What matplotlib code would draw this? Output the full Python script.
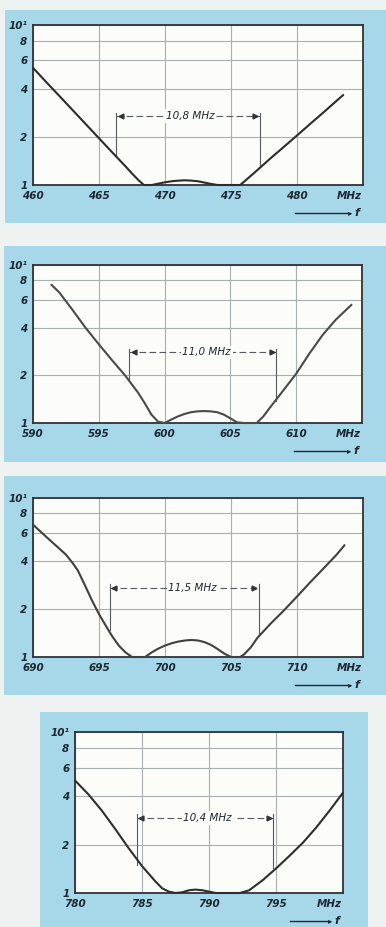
import numpy as np
import matplotlib.pyplot as plt
from matplotlib.patches import Rectangle

W, H = 386, 927

# ---- panel 1 : 460..485 MHz ----
f1 = [460, 461, 462, 463, 464, 465, 466, 467, 467.5, 468, 468.4, 469, 469.5, 470, 470.5,
      471, 471.5, 472, 472.5, 473, 473.5, 474, 475, 475.7, 476, 477, 478, 479, 480, 481,
      482, 483, 483.5]
s1 = [5.4, 4.4, 3.6, 2.94, 2.4, 1.96, 1.6, 1.31, 1.18, 1.07, 1.0, 1.0, 1.02, 1.04, 1.055,
      1.065, 1.07, 1.065, 1.055, 1.035, 1.015, 1.0, 1.0, 1.0, 1.05, 1.24, 1.47, 1.73, 2.04, 2.41,
      2.84, 3.36, 3.65]
ticks1 = [460, 465, 470, 475, 480]
xlim1 = (460, 485)
band1 = (466.3, 477.2)
band1_foot = (1.52, 1.3)
band1_level = 2.7
band1_text = "10,8 MHz"
band1_mid = 471.9

# ---- panel 2 : 590..615 MHz ----
f2 = [591.4, 592, 593, 594, 595, 596, 597, 598, 598.5, 599, 599.5, 600, 600.5, 601, 601.5,
      602, 602.5, 603, 603.5, 604, 604.5, 605, 605.5, 606, 607, 607.5, 608, 609, 610, 611,
      612, 613, 614.2]
s2 = [7.5, 6.7, 5.2, 4.0, 3.15, 2.5, 2.0, 1.55, 1.33, 1.13, 1.02, 1.0, 1.05, 1.1, 1.14,
      1.17, 1.185, 1.19, 1.185, 1.17, 1.13, 1.07, 1.01, 1.0, 1.0, 1.1, 1.25, 1.6, 2.05, 2.75,
      3.6, 4.5, 5.6]
ticks2 = [590, 595, 600, 605, 610]
xlim2 = (590, 615)
band2 = (597.3, 608.5)
band2_foot = (1.85, 1.38)
band2_level = 2.8
band2_text = "11,0 MHz"
band2_mid = 603.2

# ---- panel 3 : 690..715 MHz ----
f3 = [690, 691, 692, 692.5, 693, 693.4, 694, 694.5, 695, 695.5, 696, 696.5, 697, 697.5,
      698.5, 699, 699.5, 700, 700.5, 701, 701.5, 702, 702.5, 703, 703.5, 704, 704.5, 705,
      705.7, 706, 706.5, 707, 708, 709, 710, 711, 712, 713, 713.6]
s3 = [6.8, 5.7, 4.8, 4.4, 3.9, 3.5, 2.75, 2.24, 1.86, 1.58, 1.35, 1.18, 1.07, 1.0,
      1.0, 1.07, 1.13, 1.18, 1.22, 1.25, 1.27, 1.28, 1.27, 1.24, 1.19, 1.12, 1.05, 1.0,
      1.0, 1.04, 1.15, 1.32, 1.62, 1.96, 2.4, 2.95, 3.6, 4.4, 5.05]
ticks3 = [690, 695, 700, 705, 710]
xlim3 = (690, 715)
band3 = (695.8, 707.1)
band3_foot = (1.48, 1.4)
band3_level = 2.73
band3_text = "11,5 MHz"
band3_mid = 702.1

# ---- panel 4 : 780..800 MHz ----
f4 = [780, 781, 782, 783, 784, 785, 786, 786.5, 787, 787.5, 788, 788.5, 789, 789.5, 790,
      790.5, 791.5, 792.3, 793, 794, 795, 796, 797, 798, 799, 800]
s4 = [5.0, 4.1, 3.25, 2.5, 1.9, 1.47, 1.18, 1.07, 1.02, 1.0, 1.01, 1.04, 1.05, 1.04, 1.02,
      1.0, 1.0, 1.0, 1.04, 1.2, 1.42, 1.7, 2.05, 2.55, 3.25, 4.2]
ticks4 = [780, 785, 790, 795]
xlim4 = (780, 800)
band4 = (784.6, 794.8)
band4_foot = (1.5, 1.42)
band4_level = 2.93
band4_text = "10,4 MHz"
band4_mid = 789.9

yticks = [1, 2, 4, 6, 8, 10]
ylabels = ["1", "2", "4", "6", "8", "10\u00b9"]

# layout in pixels: blue card (x0, y0, x1, y1), plot frame (x0, y0, x1, y1)
cards = [(5, 10, 386, 223), (4, 246, 386, 462), (4, 476, 386, 695), (40, 712, 368, 927)]
frames = [(33, 25, 363, 185), (33, 265, 362, 423), (33, 498, 363, 657), (75, 732, 343, 893)]
curve_colors = ["#2c2c2c", "#4a4a4a", "#404040", "#2e2e2e"]

panels = [
    (f1, s1, ticks1, xlim1, band1, band1_foot, band1_level, band1_text, band1_mid),
    (f2, s2, ticks2, xlim2, band2, band2_foot, band2_level, band2_text, band2_mid),
    (f3, s3, ticks3, xlim3, band3, band3_foot, band3_level, band3_text, band3_mid),
    (f4, s4, ticks4, xlim4, band4, band4_foot, band4_level, band4_text, band4_mid),
]

ink = "#1d2833"
blue = "#a6d8ea"
gridc = "#a9b0b0"

fig = plt.figure(figsize=(W / 100, H / 100), dpi=100, facecolor="#eef2f1")


def fx(x):
    return x / W


def fy(y):
    return 1 - y / H


for i, (f, s, ticks, xlim, band, foot, level, text, mid) in enumerate(panels):
    cx0, cy0, cx1, cy1 = cards[i]
    fig.add_artist(Rectangle((fx(cx0), fy(cy1)), (cx1 - cx0) / W, (cy1 - cy0) / H,
                             transform=fig.transFigure, facecolor=blue, edgecolor="none", zorder=0))

    x0, y0, x1, y1 = frames[i]
    ax = fig.add_axes([fx(x0), fy(y1), (x1 - x0) / W, (y1 - y0) / H])
    ax.set_facecolor("#fcfcf9")
    ax.set_yscale("log")
    ax.set_xlim(*xlim)
    ax.set_ylim(1, 10)
    ax.set_yticks(yticks)
    ax.set_yticklabels(ylabels)
    ax.minorticks_off()
    ax.set_xticks(ticks)
    ax.set_xticklabels([str(t) for t in ticks])
    ax.tick_params(length=0, labelsize=7.5, labelcolor=ink)
    ax.tick_params(axis="x", pad=4)
    ax.tick_params(axis="y", pad=4)
    for lab in ax.get_xticklabels() + ax.get_yticklabels():
        lab.set_fontstyle("italic")
        lab.set_fontweight("bold")
    ax.grid(True, color=gridc, lw=0.8)
    ax.set_axisbelow(True)
    for sp in ax.spines.values():
        sp.set_color("#2f3338")
        sp.set_linewidth(1.3)

    # VSWR curve
    ax.plot(f, s, color=curve_colors[i], lw=1.5, solid_capstyle="round",
            solid_joinstyle="round", clip_on=False, zorder=3)

    # bandwidth marker
    lc = "#555b5e"
    ax.plot([band[0], band[0]], [foot[0], level * 1.05], color=lc, lw=0.8, zorder=2)
    ax.plot([band[1], band[1]], [foot[1], level * 1.05], color=lc, lw=0.8, zorder=2)
    ax.plot([band[0], band[1]], [level, level], color=lc, lw=0.8, ls=(0, (6, 3)), zorder=2)
    ax.plot([band[0] + 0.35], [level], marker="<", ms=3.5, color="#333", zorder=4)
    ax.plot([band[1] - 0.35], [level], marker=">", ms=3.5, color="#333", zorder=4)
    ax.text(mid, level, text, ha="center", va="center", fontsize=7.5, style="italic",
            color=ink, zorder=5,
            bbox=dict(facecolor="#fcfcf9", edgecolor="none", pad=1.2))

    # unit label and frequency arrow
    fig.text(fx(x1 - 14), fy(y1 + 11), "MHz", ha="center", va="center", fontsize=7.5,
             style="italic", weight="bold", color=ink)
    ay = y1 + 28
    ax0 = x1 - 68 if i < 3 else x1 - 53
    fig.add_artist(plt.Line2D([fx(ax0), fx(x1 - 13)], [fy(ay), fy(ay)], transform=fig.transFigure,
                              color=ink, lw=1.0))
    fig.text(fx(x1 - 13), fy(ay), "\u25b8", ha="center", va="center", fontsize=6, color=ink)
    fig.text(fx(x1 - 6), fy(ay), "f", ha="center", va="center", fontsize=8,
             style="italic", weight="bold", color=ink)

fig.savefig("out.png", dpi=100, facecolor=fig.get_facecolor())
